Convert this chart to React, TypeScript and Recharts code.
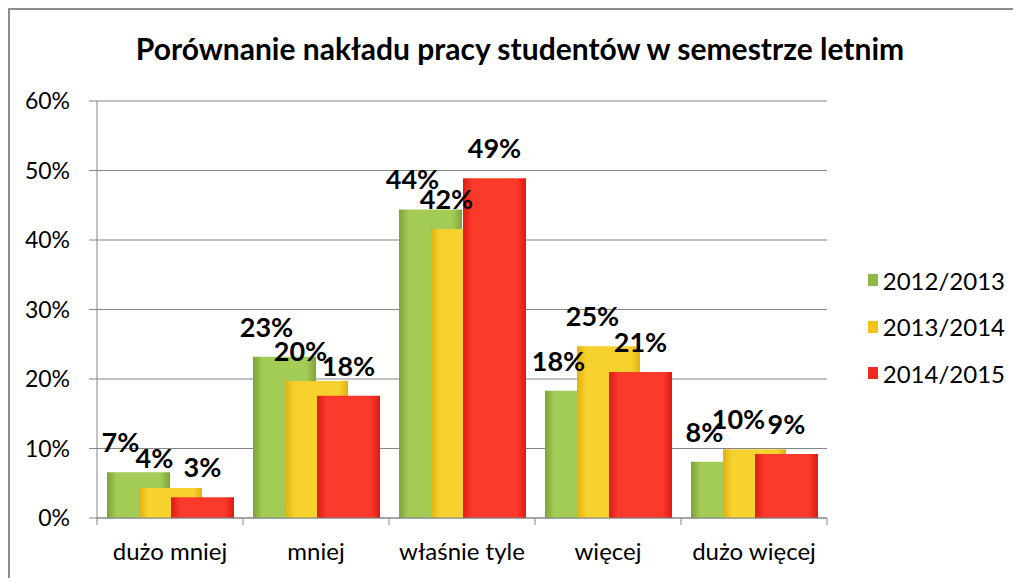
import { BarChart, Bar, XAxis, YAxis, CartesianGrid, Legend, LabelList } from 'recharts';

const categories = ['dużo mniej', 'mniej', 'właśnie tyle', 'więcej', 'dużo więcej'];
const series2012 = [0.066, 0.232, 0.444, 0.183, 0.081];
const series2013 = [0.043, 0.197, 0.416, 0.247, 0.099];
const series2014 = [0.03, 0.176, 0.489, 0.21, 0.092];
const seriesNames = ['2012/2013', '2013/2014', '2014/2015'];
const yTicks = [0, 0.1, 0.2, 0.3, 0.4, 0.5, 0.6];

const data = categories.map((name, i) => ({
  name,
  a: series2012[i],
  b: series2013[i],
  c: series2014[i],
}));

const font = 'Lato, "Open Sans", sans-serif';
const pct = (v: any) => `${Math.round(Number(v) * 100)}%`;

const colors = [
  { id: 'gGreen', edge: '#7fa23a', mid: '#a2cc55', icon: '#8db843' },
  { id: 'gYellow', edge: '#e2b10f', mid: '#f7d22e', icon: '#f0c419' },
  { id: 'gRed', edge: '#e01a12', mid: '#fb3a2c', icon: '#f02a1e' },
];

function CategoryTick(props: any) {
  const { x, y, payload, index } = props;
  const half = 73;
  return (
    <g>
      <line x1={x - half} y1={y} x2={x - half} y2={y + 7} stroke="#868686" />
      {index === categories.length - 1 && (
        <line x1={x + half} y1={y} x2={x + half} y2={y + 7} stroke="#868686" />
      )}
      <text x={x} y={y + 42} textAnchor="middle" fontSize={24} fontFamily={font} fill="#000">
        {payload.value}
      </text>
    </g>
  );
}

function LegendBox() {
  return (
    <div
      style={{
        width: 178,
        boxSizing: 'border-box',
        paddingLeft: 41,
        fontFamily: font,
        fontSize: 24,
        whiteSpace: 'nowrap',
      }}
    >
      {seriesNames.map((n, i) => (
        <div key={n} style={{ display: 'flex', alignItems: 'center', height: 46.5 }}>
          <span
            style={{
              display: 'inline-block',
              width: 12,
              height: 12,
              marginRight: 5,
              background: colors[i].icon,
            }}
          />
          {n}
        </div>
      ))}
    </div>
  );
}

export default function App() {
  return (
    <div
      style={{
        position: 'relative',
        width: 1003,
        height: 575,
        border: '2px solid #8c8c8c',
        background: '#fff',
      }}
    >
      <div
        style={{
          position: 'absolute',
          top: 20,
          left: 0,
          width: 1020,
          textAlign: 'center',
          fontFamily: font,
          fontWeight: 'bold',
          fontSize: 30,
          lineHeight: 1.2,
          whiteSpace: 'nowrap',
        }}
      >
        Porównanie nakładu pracy studentów w semestrze letnim
      </div>
      <BarChart
        width={1003}
        height={568}
        data={data}
        margin={{ top: 91, right: 8, bottom: 0, left: 0 }}
        barSize={63}
        barGap={-31}
      >
        <defs>
          {colors.map((c) => (
            <linearGradient key={c.id} id={c.id} x1="0" y1="0" x2="1" y2="0">
              <stop offset="0%" stopColor={c.edge} />
              <stop offset="15%" stopColor={c.mid} />
              <stop offset="85%" stopColor={c.mid} />
              <stop offset="100%" stopColor={c.edge} />
            </linearGradient>
          ))}
        </defs>
        <CartesianGrid vertical={false} stroke="#868686" />
        <XAxis
          dataKey="name"
          height={60}
          tick={<CategoryTick />}
          tickLine={false}
          tickSize={0}
          tickMargin={0}
          axisLine={{ stroke: '#868686' }}
          interval={0}
        />
        <YAxis
          width={87}
          domain={[0, 0.6]}
          ticks={yTicks}
          tickFormatter={pct}
          tickSize={8}
          tickMargin={19}
          tickLine={{ stroke: '#868686' }}
          axisLine={{ stroke: '#868686' }}
          tick={{ fill: '#000', fontSize: 23, fontFamily: font }}
        />
        <Legend
          layout="vertical"
          align="right"
          verticalAlign="top"
          wrapperStyle={{ top: 247 }}
          content={<LegendBox />}
        />
        <Bar dataKey="a" name={seriesNames[0]} fill="url(#gGreen)" isAnimationActive={false}>
          <LabelList dataKey="a" position="top" offset={20} dx={-18} formatter={pct} fill="#000" fontSize={27} fontWeight="bold" fontFamily={font} />
        </Bar>
        <Bar dataKey="b" name={seriesNames[1]} fill="url(#gYellow)" isAnimationActive={false}>
          <LabelList dataKey="b" position="top" offset={20} dx={-16} formatter={pct} fill="#000" fontSize={27} fontWeight="bold" fontFamily={font} />
        </Bar>
        <Bar dataKey="c" name={seriesNames[2]} fill="url(#gRed)" isAnimationActive={false}>
          <LabelList dataKey="c" position="top" offset={20} formatter={pct} fill="#000" fontSize={27} fontWeight="bold" fontFamily={font} />
        </Bar>
      </BarChart>
    </div>
  );
}
